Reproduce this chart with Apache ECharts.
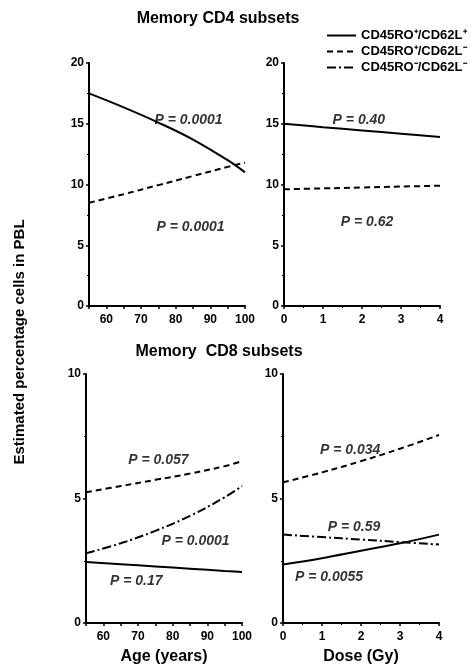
<!DOCTYPE html>
<html>
<head>
<meta charset="UTF-8">
<title>Memory CD4 / CD8 subsets</title>
<script src="https://cdn.jsdelivr.net/npm/echarts@6/dist/echarts.min.js"></script>
<style>
	html, body { margin: 0; padding: 0; background: #fff; }
	#main { width: 474px; height: 669px; }
</style>
</head>
<body>
<div id="main"></div>
<script>
// data
var subsetNames = ['CD45RO⁺/CD62L⁺', 'CD45RO⁺/CD62L⁻', 'CD45RO⁻/CD62L⁻'];
var ageX = [55, 65, 75, 85, 95, 100];
var doseX = [0, 1, 2, 3, 4];
var ageTicks = [60, 70, 80, 90, 100];

var cd4AgeSolid = [17.5, 16.35, 15.1, 13.7, 12.0, 11.0];
var cd4AgeDashed = [8.5, 9.2, 9.95, 10.7, 11.45, 11.8];
var cd4DoseSolid = [15.0, 14.72, 14.45, 14.18, 13.9];
var cd4DoseDashed = [9.6, 9.68, 9.75, 9.83, 9.9];

var cd8AgeSolid = [2.45, 2.36, 2.27, 2.18, 2.09, 2.05];
var cd8AgeDashed = [5.25, 5.5, 5.75, 6.0, 6.3, 6.5];
var cd8AgeDashDot = [2.8, 3.2, 3.7, 4.3, 5.05, 5.5];
var cd8DoseSolid = [2.35, 2.6, 2.9, 3.2, 3.55];
var cd8DoseDashed = [5.65, 6.05, 6.5, 7.0, 7.55];
var cd8DoseDashDot = [3.55, 3.45, 3.35, 3.25, 3.15];

var cd4AgeP = ['P = 0.0001', 'P = 0.0001'];
var cd4DoseP = ['P = 0.40', 'P = 0.62'];
var cd8AgeP = ['P = 0.057', 'P = 0.0001', 'P = 0.17'];
var cd8DoseP = ['P = 0.034', 'P = 0.59', 'P = 0.0055'];

// where the P labels sit, in each panel's own units
var pAnchors = [
	[[83.7, 15.3], [84.3, 6.5]],
	[[1.92, 15.3], [2.13, 6.9]],
	[[75.9, 6.55], [86.6, 3.3], [69.5, 1.7]],
	[[1.72, 6.95], [1.82, 3.85], [1.18, 1.85]]
];

var FONT = '"Liberation Sans", Arial, sans-serif';
var lineTypes = ['solid', [6, 4], [9, 3, 2, 3]];

function pairs(xs, ys) {
	return xs.map(function (x, i) { return [x, ys[i]]; });
}

function yAxisCfg(gi, max) {
	return {
		gridIndex: gi, type: 'value', min: 0, max: max, interval: 5,
		axisLine: {show: true, lineStyle: {color: '#000', width: 2}},
		axisTick: {show: true, length: 3, lineStyle: {color: '#000', width: 1.5}},
		minorTick: {show: true, splitNumber: 2, length: 2, lineStyle: {color: '#000', width: 1}},
		splitLine: {show: false},
		axisLabel: {color: '#000', fontFamily: FONT, fontWeight: 'bold', fontSize: 12, margin: 5}
	};
}

function ageAxisCfg(gi, name) {
	return {
		gridIndex: gi, type: 'value', min: 55, max: 100, interval: 5,
		name: name, nameLocation: 'middle', nameGap: 26,
		nameTextStyle: {color: '#000', fontFamily: FONT, fontWeight: 'bold', fontSize: 16},
		axisLine: {show: true, onZero: false, lineStyle: {color: '#000', width: 2}},
		axisTick: {show: true, length: 3, lineStyle: {color: '#000', width: 1.5}},
		splitLine: {show: false},
		axisLabel: {
			color: '#000', fontFamily: FONT, fontWeight: 'bold', fontSize: 12, margin: 8,
			formatter: function (v) { return ageTicks.indexOf(v) >= 0 ? String(v) : ''; }
		}
	};
}

function doseAxisCfg(gi, name) {
	return {
		gridIndex: gi, type: 'value', min: 0, max: 4, interval: 1,
		name: name, nameLocation: 'middle', nameGap: 26,
		nameTextStyle: {color: '#000', fontFamily: FONT, fontWeight: 'bold', fontSize: 16},
		axisLine: {show: true, onZero: false, lineStyle: {color: '#000', width: 2}},
		axisTick: {show: true, length: 3, lineStyle: {color: '#000', width: 1.5}},
		minorTick: {show: true, splitNumber: 2, length: 2, lineStyle: {color: '#000', width: 1}},
		splitLine: {show: false},
		axisLabel: {color: '#000', fontFamily: FONT, fontWeight: 'bold', fontSize: 12, margin: 8}
	};
}

function curve(gi, kind, xs, ys) {
	return {
		name: subsetNames[kind], type: 'line', xAxisIndex: gi, yAxisIndex: gi,
		data: pairs(xs, ys), smooth: 0.4, symbol: 'none', silent: true,
		lineStyle: {color: '#000', width: 2, type: lineTypes[kind]},
		itemStyle: {color: '#000'}
	};
}

function pLabels(gi, texts) {
	return {
		type: 'scatter', xAxisIndex: gi, yAxisIndex: gi, silent: true,
		symbolSize: 1, itemStyle: {color: 'rgba(0,0,0,0)'},
		data: texts.map(function (t, i) {
			return {value: pAnchors[gi][i], name: t};
		}),
		label: {
			show: true, position: 'inside', formatter: '{b}',
			color: '#000', fontFamily: FONT, fontWeight: 'bold', fontStyle: 'italic', fontSize: 14
		}
	};
}

var myChart = echarts.init(document.getElementById('main'));

myChart.setOption({
	backgroundColor: '#fff',
	animation: false,
	legend: {
		orient: 'vertical', left: 321, top: 24,
		itemWidth: 29, itemHeight: 14, itemGap: 3,
		data: subsetNames,
		itemStyle: {color: 'rgba(0,0,0,0)', borderWidth: 0, opacity: 0},
		textStyle: {color: '#000', fontFamily: FONT, fontWeight: 'bold', fontSize: 13}
	},
	grid: [
		{left: 89, top: 63, width: 156, height: 243},
		{left: 284, top: 63, width: 156, height: 243},
		{left: 86, top: 374, width: 156, height: 249},
		{left: 283, top: 374, width: 156, height: 249}
	],
	xAxis: [
		ageAxisCfg(0, ''),
		doseAxisCfg(1, ''),
		ageAxisCfg(2, 'Age (years)'),
		doseAxisCfg(3, 'Dose (Gy)')
	],
	yAxis: [yAxisCfg(0, 20), yAxisCfg(1, 20), yAxisCfg(2, 10), yAxisCfg(3, 10)],
	graphic: [
		{type: 'text', x: 218, y: 19, style: {text: 'Memory CD4 subsets', textAlign: 'center', textVerticalAlign: 'middle', fill: '#000', font: 'bold 16px ' + FONT}},
		{type: 'text', x: 219, y: 352, style: {text: 'Memory  CD8 subsets', textAlign: 'center', textVerticalAlign: 'middle', fill: '#000', font: 'bold 16px ' + FONT}},
		{type: 'text', x: 20, y: 342, rotation: Math.PI / 2, style: {text: 'Estimated percentage cells in PBL', textAlign: 'center', textVerticalAlign: 'middle', fill: '#000', font: 'bold 15px ' + FONT}}
	],
	series: [
		curve(0, 0, ageX, cd4AgeSolid),
		curve(0, 1, ageX, cd4AgeDashed),
		curve(1, 0, doseX, cd4DoseSolid),
		curve(1, 1, doseX, cd4DoseDashed),
		curve(2, 0, ageX, cd8AgeSolid),
		curve(2, 1, ageX, cd8AgeDashed),
		curve(2, 2, ageX, cd8AgeDashDot),
		curve(3, 0, doseX, cd8DoseSolid),
		curve(3, 1, doseX, cd8DoseDashed),
		curve(3, 2, doseX, cd8DoseDashDot),
		pLabels(0, cd4AgeP),
		pLabels(1, cd4DoseP),
		pLabels(2, cd8AgeP),
		pLabels(3, cd8DoseP)
	]
});
</script>
</body>
</html>
